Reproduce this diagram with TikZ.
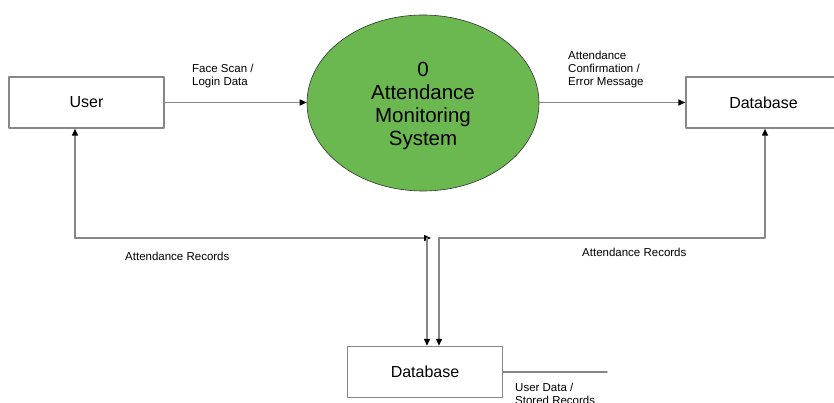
\documentclass[tikz,border=0pt]{standalone}
\usepackage{fontspec}
\setmainfont{Liberation Sans}
\usepackage{tikz}
\usetikzlibrary{arrows.meta}
\usetikzlibrary{shapes.geometric}

\definecolor{procgreen}{RGB}{108,184,80}
\definecolor{linegray}{RGB}{135,135,135}

\begin{document}
\begin{tikzpicture}[line cap=round,line join=round,>={Triangle[black,length=7pt,width=6pt]},x=1pt,y=-1pt,
        ent/.style={rectangle, draw=linegray, line width=1.5pt, minimum width=155pt, minimum height=51pt, inner sep=0pt, font=\fontsize{16}{19}\selectfont},
        proc/.style={ellipse, draw=black!80, fill=procgreen, line width=0.6pt, minimum width=232pt, minimum height=176pt, inner sep=0pt},
        proctext/.style={align=center, inner sep=0pt, font=\fontsize{20.5}{23}\selectfont},
        lbl/.style={anchor=west, align=left, inner sep=0pt, font=\fontsize{11.5}{13}\selectfont},
        flow/.style={draw=linegray, line width=1.5pt}]
                        \useasboundingbox (0,0) rectangle (834,403);

                        \node[ent] (user) at (86.5,102.5) {User};
                        \node[proc] (sys) at (423,103) {};
                        \node[proctext] (systxt) at ([yshift=-3pt]sys.center) {0\\Attendance\\Monitoring\\System};
                        \node[ent] (db1) at (763.5,102.5) {Database};
                        \node[ent] (db2) at (425,372) {Database};

                        \draw [flow,->] (user.east) -- (user.east -| sys.west);
                        \draw [flow,->] (db1.west -| sys.east) -- (db1.west);

                        \coordinate (ua) at (75,238);
                        \coordinate (ub) at (431,238);
                        \coordinate (uc) at (427,238);
                        \coordinate (da) at (439,238);
                        \coordinate (dc) at (765,238);
                        \coordinate (dz) at (607,372);

                        \draw [flow,->] (ua) -- (ua |- user.south);
                        \draw [flow,->] (ua) -- (ub);
                        \draw [flow,->] (uc) -- (uc |- db2.north);
                        \draw [flow,->] (da) -- (da |- db2.north);
                        \draw [flow,->] (da) -- (dc) -- (dc |- db1.south);
                        \draw [flow] (db2.east) -- (dz);

                        \node[lbl] (l1) at (192,76.5) {Face Scan /\\Login Data};
                        \node[lbl] (l2) at (568,70) {Attendance\\Confirmation /\\Error Message};
                        \node[lbl] (l3) at (125,256) {Attendance Records};
                        \node[lbl] (l4) at (582,252) {Attendance Records};
                        \node[lbl] (l5) at (515,393.5) {User Data /\\Stored Records};
                    \end{tikzpicture}
\end{document}
